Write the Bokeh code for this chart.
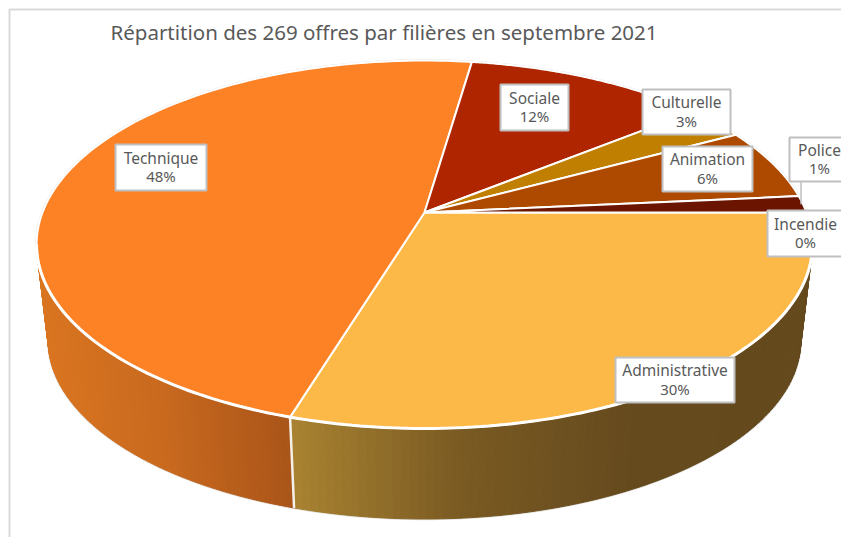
import numpy as np
from bokeh.plotting import figure
from bokeh.models import Range1d
from bokeh.core.properties import value
from bokeh.embed import file_html
from bokeh.resources import INLINE

TITLE = "Répartition des 269 offres par filières en septembre 2021"
categories = ["Administrative", "Technique", "Sociale", "Culturelle", "Animation", "Police", "Incendie"]
offers = [80, 128, 32, 8, 17, 4, 0]
percent_labels = ["30%", "48%", "12%", "3%", "6%", "1%", "0%"]
top_colors = ["#FDB947", "#FD8125", "#AE2500", "#C07F00", "#AE4A00", "#6B1500", "#6B1500"]
wall_stops = {"Administrative": [(170, 132, 50), (122, 90, 34), (101, 74, 30), (100, 73, 29)],
              "Technique": [(218, 117, 32), (200, 105, 30), (170, 85, 25)]}
label_boxes = [(615, 734, 357, 402), (115, 206, 144, 190), (500, 568, 84, 130),
               (642, 730, 89, 134), (662, 752, 146, 191), (789, 850, 137, 181), (767, 850, 210, 256)]
label_centres = [674.5, 160.5, 534, 686, 707, 819, 805]

W, H = 841, 537
FONT = "Noto Sans"
TEXT = "#595959"
START = 90.0
CX, CY = 424, 212
A, B, K = 382.0, 178.4, 0.174
S, OFF = 0.97, 97


def top(theta):
    t = np.radians(theta)
    u, v = np.sin(t), np.cos(t)
    d = 1 + K * v
    return CX + A * u / d, CY - B * v / d


def low(theta):
    x, y = top(theta)
    return CX + S * (x - CX), CY + S * (y - CY) + OFF


def mix(stops, t):
    n = len(stops) - 1
    i = min(int(t * n), n - 1)
    f = t * n - i
    return "#%02x%02x%02x" % tuple(int(round(a + (b - a) * f)) for a, b in zip(stops[i], stops[i + 1]))


p = figure(width=W, height=H, x_range=Range1d(0, W), y_range=Range1d(H, 0),
           output_backend="svg", toolbar_location=None, min_border=0, outline_line_color=None,
           background_fill_color="white", border_fill_color="white")
p.axis.visible = False
p.grid.visible = False

# chart frame
p.line([9, 9, W], [H, 9, 9], line_color="#D9D9D9", line_width=2)

total = sum(offers)
edges = START + np.cumsum([0] + offers) * 360.0 / total

# silhouette halo
all_th = np.linspace(0, 360, 361)
hx, hy = top(all_th)
p.line(hx, hy, line_color="#E2E2E2", line_width=2.5)
front = np.linspace(100, 260, 161)
fx, fy = low(front)
tx0, ty0 = top(100.0)
tx1, ty1 = top(260.0)
p.line(np.r_[tx0, fx, tx1], np.r_[ty0, fy, ty1], line_color="#E2E2E2", line_width=2.5)

# walls
lim = {"Administrative": (100, edges[1]), "Technique": (edges[1], 260)}
for name, (a, b) in lim.items():
    th = np.linspace(a, b, 91)
    xs, ys, cs = [], [], []
    xa, _ = low(a)
    xb, _ = low(b)
    for t0, t1 in zip(th[:-1], th[1:]):
        x0, y0 = top(t0); x1, y1 = top(t1)
        x2, y2 = low(t1); x3, y3 = low(t0)
        xs.append([x0, x1, x2, x3]); ys.append([y0, y1, y2, y3])
        frac = abs(x3 - xb) / abs(xa - xb)
        cs.append(mix(wall_stops[name], float(np.clip(frac, 0, 1))))
    p.patches(xs, ys, fill_color=cs, line_color=cs, line_width=1)

# seam between the two front walls
sx0, sy0 = top(edges[1]); sx1, sy1 = low(edges[1])
p.line([sx0, sx1], [sy0, sy1], line_color="#F4F1EA", line_width=2.5)

# top faces
for i, name in enumerate(categories):
    if offers[i] == 0:
        continue
    th = np.linspace(edges[i], edges[i + 1], 120)
    x, y = top(th)
    p.patch(np.r_[CX, x], np.r_[CY, y], fill_color=top_colors[i], line_color="white", line_width=2)

# thick bright rim where the top meets the front wall
rx, ry = top(np.linspace(100, 260, 161))
p.line(rx, ry, line_color="white", line_width=3)

# leader of the Police label
lx, ly = top(0.5 * (edges[5] + edges[6]))
p.line([800.5, 800.5], [label_boxes[5][3], ly], line_color="#BFBFBF", line_width=1.5)

# labels
for name, pct, (l, r, t, b), mid in zip(categories, percent_labels, label_boxes, label_centres):
    p.quad(left=[l], right=[r], top=[t], bottom=[b], fill_color="white", line_color="#BFBFBF", line_width=2)
    m = (t + b) / 2
    p.text([mid], [m - 10], text=[name], text_font=value(FONT), text_font_size="15.5px", text_color=TEXT,
           text_align="center", text_baseline="middle")
    p.text([mid], [m + 8.5], text=[pct], text_font=value(FONT), text_font_size="15px", text_color=TEXT,
           text_align="center", text_baseline="middle")

p.text([383.5], [31], text=[TITLE], text_font=value(FONT), text_font_size="20.5px", text_color=TEXT,
       text_align="center", text_baseline="middle")

open("out.html", "w").write(file_html(p, INLINE))
